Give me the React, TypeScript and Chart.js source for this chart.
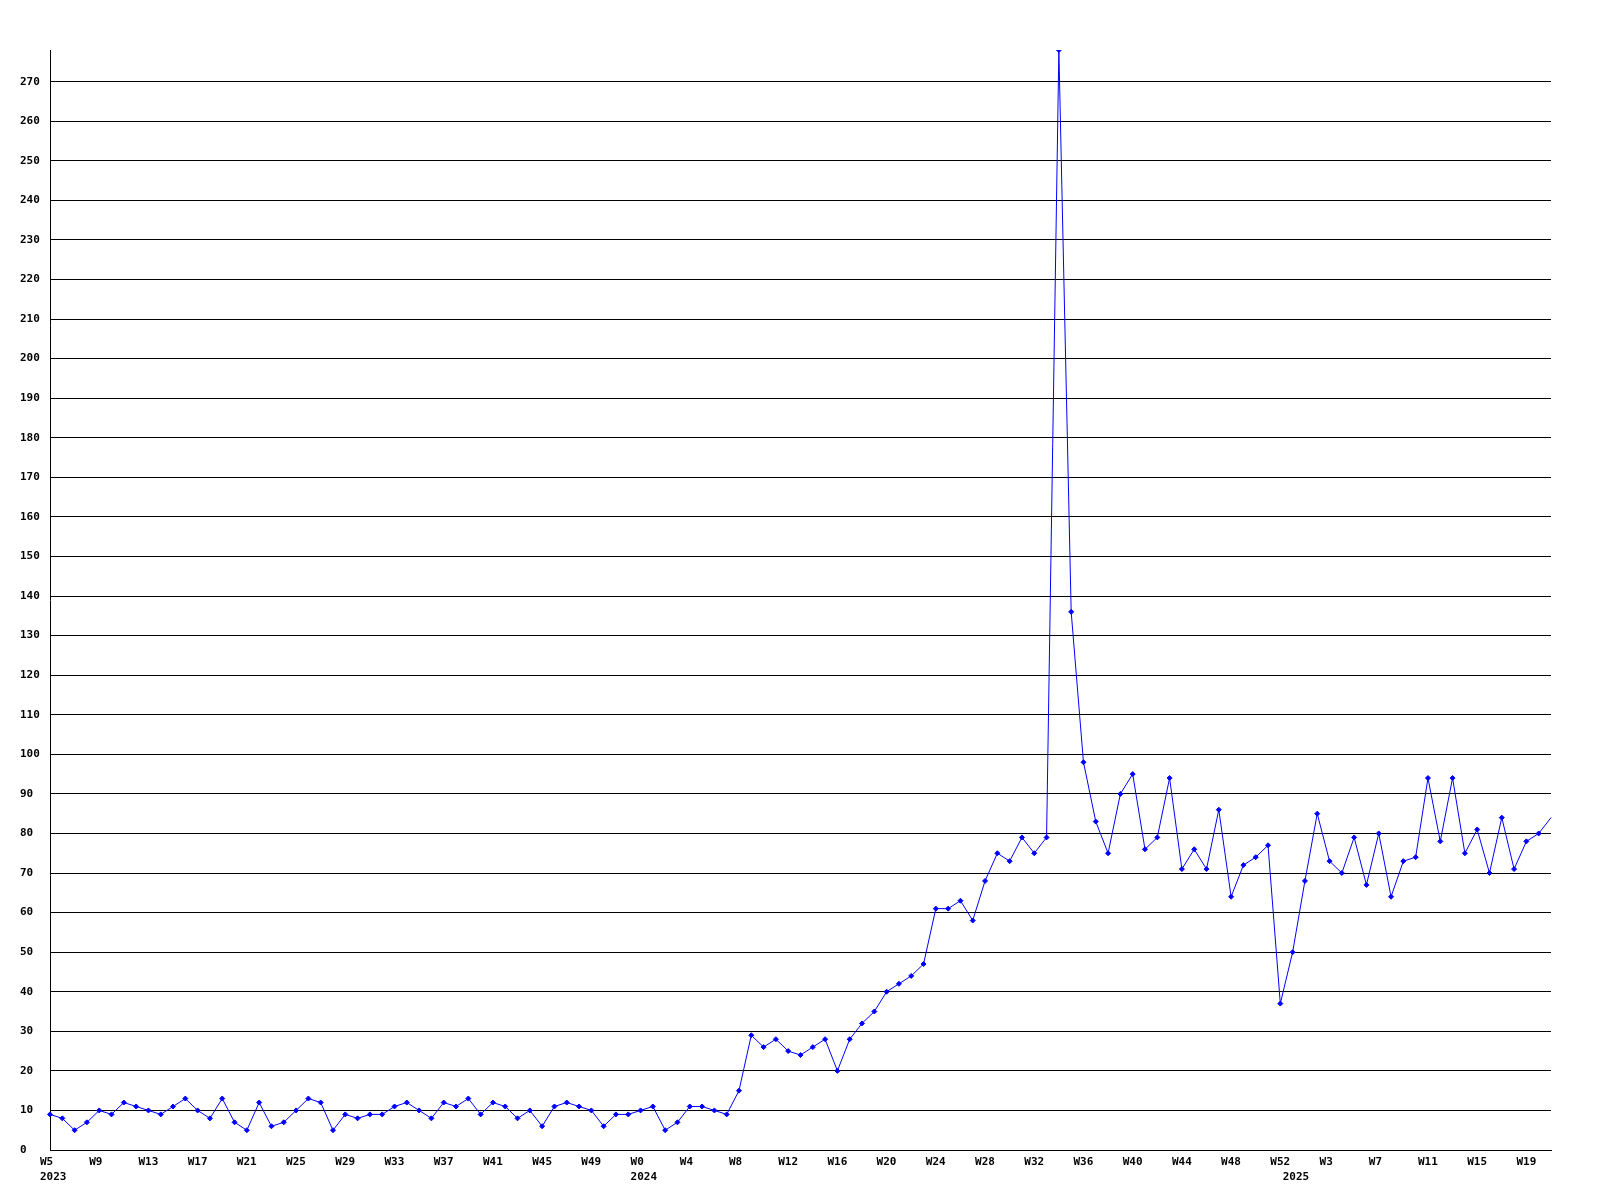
import React, { useEffect, useRef } from 'react';
import { Chart, registerables } from 'chart.js';

Chart.register(...registerables);

// Week ranges covered by the chart (year, first week, last week)
const yearRanges: [number, number, number][] = [
  [2023, 5, 52],
  [2024, 0, 52],
  [2025, 0, 21],
];

// Weekly values, one per category
const values: number[] = [
  9, 8, 5, 7, 10, 9, 12, 11, 10, 9,
  11, 13, 10, 8, 13, 7, 5, 12, 6, 7,
  10, 13, 12, 5, 9, 8, 9, 9, 11, 12,
  10, 8, 12, 11, 13, 9, 12, 11, 8, 10,
  6, 11, 12, 11, 10, 6, 9, 9, 10, 11,
  5, 7, 11, 11, 10, 9, 15, 29, 26, 28,
  25, 24, 26, 28, 20, 28, 32, 35, 40, 42,
  44, 47, 61, 61, 63, 58, 68, 75, 73, 79,
  75, 79, 278, 136, 98, 83, 75, 90, 95, 76,
  79, 94, 71, 76, 71, 86, 64, 72, 74, 77,
  37, 50, 68, 85, 73, 70, 79, 67, 80, 64,
  73, 74, 94, 78, 94, 75, 81, 70, 84, 71,
  78, 80, 84,
];

const Y_MAX = 278;
const Y_STEP = 10;
const LABEL_EVERY = 4;

const categories: { week: string; year: number }[] = [];
for (const [year, from, to] of yearRanges) {
  for (let w = from; w <= to; w++) categories.push({ week: 'W' + w, year });
}

function tickLabel(i: number): string | string[] {
  const c = categories[i];
  if (!c) return '';
  const week = i % LABEL_EVERY === 0 ? c.week : '';
  const firstOfYear = i === 0 || categories[i - 1].year !== c.year;
  if (firstOfYear) return [week, String(c.year)];
  return week;
}

export default function App() {
  const ref = useRef<HTMLCanvasElement | null>(null);

  useEffect(() => {
    if (!ref.current) return;
    const font = {
      family: '"DejaVu Sans Mono", "Liberation Mono", monospace',
      size: 11,
      weight: 'bold' as const,
      lineHeight: 15 / 11,
    };
    const last = values.length - 1;
    const chart = new Chart(ref.current, {
      type: 'line',
      data: {
        labels: categories.map((c) => c.week),
        datasets: [
          {
            data: values,
            borderColor: '#0000ff',
            borderWidth: 1,
            tension: 0,
            fill: false,
            pointStyle: 'rectRot',
            pointRadius: (ctx: any) => (ctx.dataIndex === last ? 0 : 2.5),
            pointBackgroundColor: '#0000ff',
            pointBorderColor: '#0000ff',
            pointBorderWidth: 1,
          },
        ],
      },
      options: {
        responsive: false,
        animation: false,
        events: [],
        layout: { padding: { left: 20, top: 50, right: 49, bottom: 0 } },
        plugins: {
          legend: { display: false },
          tooltip: { enabled: false },
        },
        scales: {
          x: {
            type: 'category',
            offset: false,
            grid: { display: false, drawTicks: false },
            border: { display: true, color: '#000000', width: 1 },
            ticks: {
              autoSkip: false,
              maxRotation: 0,
              minRotation: 0,
              align: 'start',
              labelOffset: -10,
              padding: 5,
              color: '#000000',
              font,
              callback: (_v: any, i: number) => tickLabel(i),
            },
            afterFit: (s: any) => {
              s.height = 50;
            },
          },
          y: {
            min: 0,
            max: Y_MAX,
            grid: { color: '#000000', lineWidth: 1, drawTicks: false },
            border: { display: true, color: '#000000', width: 1 },
            ticks: {
              stepSize: Y_STEP,
              includeBounds: false,
              crossAlign: 'far',
              padding: 10,
              color: '#000000',
              font,
            },
            afterFit: (s: any) => {
              s.width = 30;
            },
          },
        },
      } as any,
    });
    return () => chart.destroy();
  }, []);

  return (
    <div style={{ position: 'absolute', left: 0, top: 0, width: 1600, height: 1200, background: '#ffffff' }}>
      <canvas ref={ref} width={1600} height={1200} style={{ display: 'block' }} />
    </div>
  );
}
